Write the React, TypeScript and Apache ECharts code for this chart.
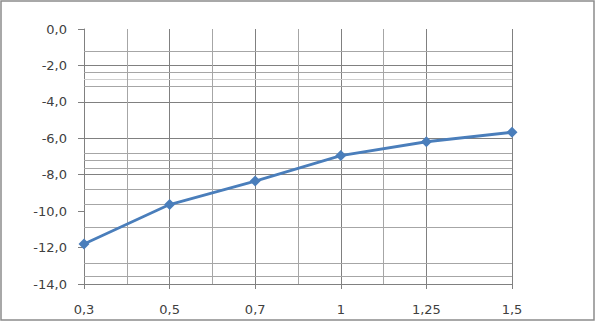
import React, { useEffect, useRef } from "react";
import * as echarts from "echarts";

const xLabels = ["0,3", "0,5", "0,7", "1", "1,25", "1,5"];
const values = [-11.8, -9.64, -8.35, -6.95, -6.19, -5.67];
const majorGridY = [-2, -4, -6, -8];
const minorGridY = [-1.2, -2.4, -3.17, -6.83, -7.23, -7.62, -8.8, -9.63, -10.87, -12.87, -13.6];
const faintGridY = [-2.76];
const minorGridX = [0.5, 1.5, 2.5, 3.5];

const FONT = "DejaVu Sans";

function hLines(vals: number[], color: string) {
  return {
    type: "line",
    data: [],
    silent: true,
    z: 1,
    markLine: {
      silent: true,
      symbol: "none",
      animation: false,
      label: { show: false },
      lineStyle: { color, width: 1, type: "solid" },
      emphasis: { disabled: true },
      data: vals.map((v) => ({ yAxis: v })),
    },
  };
}

function vLines(vals: number[], color: string) {
  return {
    type: "line",
    data: [],
    silent: true,
    z: 1,
    markLine: {
      silent: true,
      symbol: "none",
      animation: false,
      label: { show: false },
      lineStyle: { color, width: 1, type: "solid" },
      emphasis: { disabled: true },
      data: vals.map((v) => ({ xAxis: v })),
    },
  };
}

export default function App() {
  const ref = useRef<HTMLDivElement>(null);
  useEffect(() => {
    if (!ref.current) return;
    const chart = echarts.init(ref.current, null, { renderer: "svg" });
    chart.setOption({
      animation: false,
      backgroundColor: "#ffffff",
      grid: { left: 84, right: 84, top: 29, bottom: 38, containLabel: false },
      graphic: [
        {
          type: "rect",
          shape: { x: 1, y: 1, width: 593, height: 319 },
          style: { fill: "none", stroke: "#8c8c8c", lineWidth: 1.5 },
          silent: true,
        },
      ],
      xAxis: {
        type: "value",
        min: 0,
        max: xLabels.length - 1,
        interval: 1,
        axisLine: { show: true, onZero: false, lineStyle: { color: "#808080", width: 1 } },
        axisTick: { show: true, length: 5, lineStyle: { color: "#808080" } },
        axisLabel: {
          margin: 19,
          fontFamily: FONT,
          fontSize: 13,
          color: "#404040",
          formatter: (v: number) => xLabels[Math.round(v)] ?? "",
        },
        splitLine: { show: true, lineStyle: { color: "#808080", width: 1 } },
      },
      yAxis: {
        type: "value",
        min: -14,
        max: 0,
        interval: 2,
        axisLine: { show: true, lineStyle: { color: "#808080", width: 1 } },
        axisTick: { show: true, length: 6, lineStyle: { color: "#808080" } },
        axisLabel: {
          margin: 17,
          fontFamily: FONT,
          fontSize: 13,
          color: "#404040",
          formatter: (v: number) => v.toFixed(1).replace(".", ","),
        },
        splitLine: { show: false },
      },
      series: [
        hLines(majorGridY, "#808080"),
        hLines(minorGridY, "#a6a6a6"),
        hLines(faintGridY, "#cfcfcf"),
        vLines(minorGridX, "#a6a6a6"),
        {
          type: "line",
          z: 5,
          data: values.map((v, i) => [i, v]),
          symbol: "diamond",
          symbolSize: 11,
          lineStyle: { color: "#4a7ebb", width: 2.8 },
          itemStyle: { color: "#4a7ebb" },
        },
      ],
    });
    return () => chart.dispose();
  }, []);
  return (
    <div
      ref={ref}
      style={{ position: "fixed", left: 0, top: 0, width: 596, height: 322 }}
    />
  );
}
